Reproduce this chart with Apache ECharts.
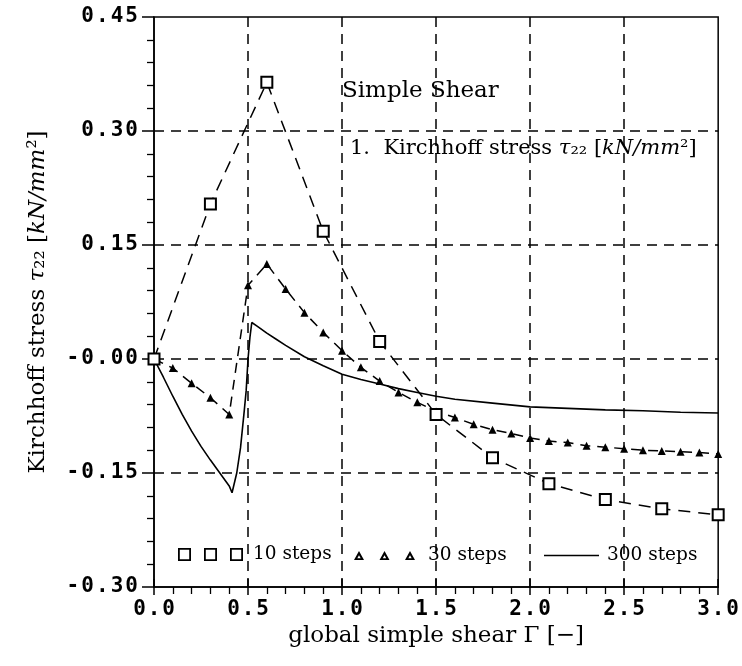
<!DOCTYPE html>
<html><head><meta charset="utf-8">
<script src="https://cdn.jsdelivr.net/npm/echarts@6/dist/echarts.min.js"></script>
<style>html,body{margin:0;padding:0;background:#fff}#c{width:742px;height:666px}</style>
</head><body><div id="c"></div>
<script>
// ---- data ----
const xTickLabels = ['0.0','0.5','1.0','1.5','2.0','2.5','3.0'];
const yTickLabels = ['-0.30','-0.15','-0.00','0.15','0.30','0.45'];
const seriesNames = ['10 steps','30 steps','300 steps'];

const gamma10 = [0, 0.3, 0.6, 0.9, 1.2, 1.5, 1.8, 2.1, 2.4, 2.7, 3.0];
const tau10   = [0, 0.204, 0.364, 0.168, 0.023, -0.073, -0.130, -0.164, -0.185, -0.197, -0.205];

const gamma30 = [0, 0.1, 0.2, 0.3, 0.4, 0.5, 0.6, 0.7, 0.8, 0.9, 1.0, 1.1, 1.2, 1.3, 1.4, 1.5,
                 1.6, 1.7, 1.8, 1.9, 2.0, 2.1, 2.2, 2.3, 2.4, 2.5, 2.6, 2.7, 2.8, 2.9, 3.0];
const tau30   = [0, -0.012, -0.032, -0.051, -0.073, 0.097, 0.125, 0.092, 0.061, 0.035, 0.011,
                 -0.011, -0.029, -0.044, -0.057, -0.069, -0.077, -0.086, -0.093, -0.098, -0.104,
                 -0.108, -0.110, -0.114, -0.116, -0.118, -0.120, -0.121, -0.122, -0.123, -0.125];

const gamma300 = [0, 0.05, 0.1, 0.15, 0.2, 0.25, 0.3, 0.35, 0.4, 0.415, 0.44, 0.46, 0.48, 0.49,
                  0.5, 0.51, 0.52, 0.55, 0.6, 0.65, 0.7, 0.8, 0.9, 1.0, 1.1, 1.2, 1.3, 1.4, 1.5,
                  1.6, 1.8, 2.0, 2.2, 2.4, 2.6, 2.8, 3.0];
const tau300   = [0, -0.024, -0.049, -0.073, -0.095, -0.115, -0.133, -0.150, -0.167, -0.176,
                  -0.150, -0.117, -0.068, -0.042, 0.0, 0.028, 0.048, 0.043, 0.034, 0.026, 0.018,
                  0.003, -0.009, -0.020, -0.027, -0.033, -0.039, -0.044, -0.049, -0.053, -0.058,
                  -0.063, -0.065, -0.067, -0.068, -0.070, -0.071];

// ---- helpers ----
const X_MIN = 0, X_MAX = 3, X_STEP = 0.5;
const Y_MIN = -0.3, Y_MAX = 0.45, Y_STEP = 0.15;
const pairs = (xs, ys) => xs.map((x, i) => [x, ys[i]]);
const spaced = s => s.split('').map(c => '{c|' + c + '}').join('');
const tickFont = { fontFamily: 'DejaVu Sans Mono', fontWeight: 'bold', fontSize: 21, color: '#000' };
const serif = 'DejaVu Serif';

const sqIcon = 'path://M0,0H13V13H0Z M1.8,1.8V11.2H11.2V1.8Z M26,0H39V13H26Z M27.8,1.8V11.2H37.2V1.8Z M52,0H65V13H52Z M53.8,1.8V11.2H63.2V1.8Z';
const triIcon = 'path://M5,0L10,9H0Z M5,4.2L3.3,7.3H6.7Z M30.5,0L35.5,9H25.5Z M30.5,4.2L28.8,7.3H32.2Z M56,0L61,9H51Z M56,4.2L54.3,7.3H57.7Z';
const lineIcon = 'path://M0,0H55V1.7H0Z';

const legendText = { fontFamily: serif, fontSize: 18.5, color: '#000' };
const legendItemStyle = { color: '#000', borderColor: '#000', borderWidth: 0 };

const chart = echarts.init(document.getElementById('c'), null, { renderer: 'canvas' });
chart.setOption({
  animation: false,
  backgroundColor: '#fff',
  grid: { left: 154, right: 21, top: 17, bottom: 79, show: true, borderColor: '#000', borderWidth: 1.5, containLabel: false },
  title: [
    { text: 'Simple Shear', left: 342, top: 80, padding: 0,
      textStyle: { fontFamily: serif, fontSize: 23, fontWeight: 'normal', color: '#000' } },
    { text: '1.  Kirchhoff stress {i|τ}₂₂ [{i|kN/mm}²]', left: 350, top: 138, padding: 0,
      textStyle: { fontFamily: serif, fontSize: 21, fontWeight: 'normal', color: '#000',
        rich: { i: { fontFamily: serif, fontSize: 21, fontStyle: 'italic', color: '#000' } } } }
  ],
  legend: [
    { data: [{ name: seriesNames[0], icon: sqIcon, itemStyle: legendItemStyle }], left: 178, top: 545, padding: 0,
      itemWidth: 65, itemHeight: 13, selectedMode: false, textStyle: Object.assign({ padding: [0, 0, 0, 5] }, legendText) },
    { data: [{ name: seriesNames[1], icon: triIcon, itemStyle: legendItemStyle }], left: 354, top: 546, padding: 0,
      itemWidth: 61, itemHeight: 9, selectedMode: false, textStyle: Object.assign({ padding: [0, 0, 0, 8] }, legendText) },
    { data: [{ name: seriesNames[2], icon: lineIcon, itemStyle: legendItemStyle }], left: 544, top: 546, padding: 0,
      itemWidth: 55, itemHeight: 2, selectedMode: false, textStyle: Object.assign({ padding: [0, 0, 0, 3] }, legendText) }
  ],
  xAxis: [
    { type: 'value', min: X_MIN, max: X_MAX, interval: X_STEP, position: 'bottom',
      name: 'global simple shear Γ [−]', nameLocation: 'middle', nameGap: 33,
      nameTextStyle: { fontFamily: serif, fontSize: 23, color: '#000' },
      axisLine: { show: true, onZero: false, lineStyle: { color: '#000', width: 1.5 } },
      axisTick: { show: true, inside: false, length: 8, lineStyle: { color: '#000', width: 1.5 } },
      minorTick: { show: true, splitNumber: 5, length: 7, lineStyle: { color: '#000', width: 1.3 } },
      axisLabel: { show: true, margin: 12, formatter: v => spaced(xTickLabels[Math.round((v - X_MIN) / X_STEP)]),
        rich: { c: Object.assign({ width: 14.5, align: 'center' }, tickFont) } },
      splitLine: { show: true, showMinLine: false, showMaxLine: false, lineStyle: { color: '#000', width: 1.5, type: [10, 7] } }
    },
    { type: 'value', min: X_MIN, max: X_MAX, interval: X_STEP, position: 'bottom',
      axisLine: { show: false, onZero: false }, axisLabel: { show: false }, splitLine: { show: false },
      axisTick: { show: true, inside: true, length: 8, lineStyle: { color: '#000', width: 1.5 } } }
  ],
  yAxis: {
    type: 'value', min: Y_MIN, max: Y_MAX, interval: Y_STEP,
    name: 'Kirchhoff stress {i|τ}₂₂ [{i|kN/mm}²]', nameLocation: 'middle', nameRotate: 90, nameGap: 104,
    nameTextStyle: { fontFamily: serif, fontSize: 23, color: '#000',
      rich: { i: { fontFamily: serif, fontSize: 23, fontStyle: 'italic', color: '#000' } } },
    axisLine: { show: true, onZero: false, lineStyle: { color: '#000', width: 1.5 } },
    axisTick: { show: true, inside: false, length: 12, lineStyle: { color: '#000', width: 1.5 } },
    minorTick: { show: true, splitNumber: 5, length: 7, lineStyle: { color: '#000', width: 1.3 } },
    axisLabel: { show: true, margin: 15, formatter: v => spaced(yTickLabels[Math.round((v - Y_MIN) / Y_STEP)]),
      rich: { c: Object.assign({ width: 14.7, align: 'center' }, tickFont) } },
    splitLine: { show: true, showMinLine: false, showMaxLine: false, lineStyle: { color: '#000', width: 1.5, type: [10, 7] } }
  },
  series: [
    { name: seriesNames[0], type: 'line', data: pairs(gamma10, tau10), xAxisIndex: 0,
      symbol: 'emptyRect', symbolSize: 11, showSymbol: true,
      lineStyle: { color: '#000', width: 1.5, type: [12, 8] },
      itemStyle: { color: '#000', borderColor: '#000', borderWidth: 1.6 }, z: 4 },
    { name: seriesNames[1], type: 'line', data: pairs(gamma30, tau30), xAxisIndex: 0,
      symbol: 'triangle', symbolSize: 8, showSymbol: true,
      lineStyle: { color: '#000', width: 1.5, type: [10, 7] },
      itemStyle: { color: '#000' }, z: 3 },
    { name: seriesNames[2], type: 'line', data: pairs(gamma300, tau300), xAxisIndex: 0,
      symbol: 'none', showSymbol: false,
      lineStyle: { color: '#000', width: 1.6, type: 'solid' }, z: 2 }
  ]
});
</script>
</body></html>
